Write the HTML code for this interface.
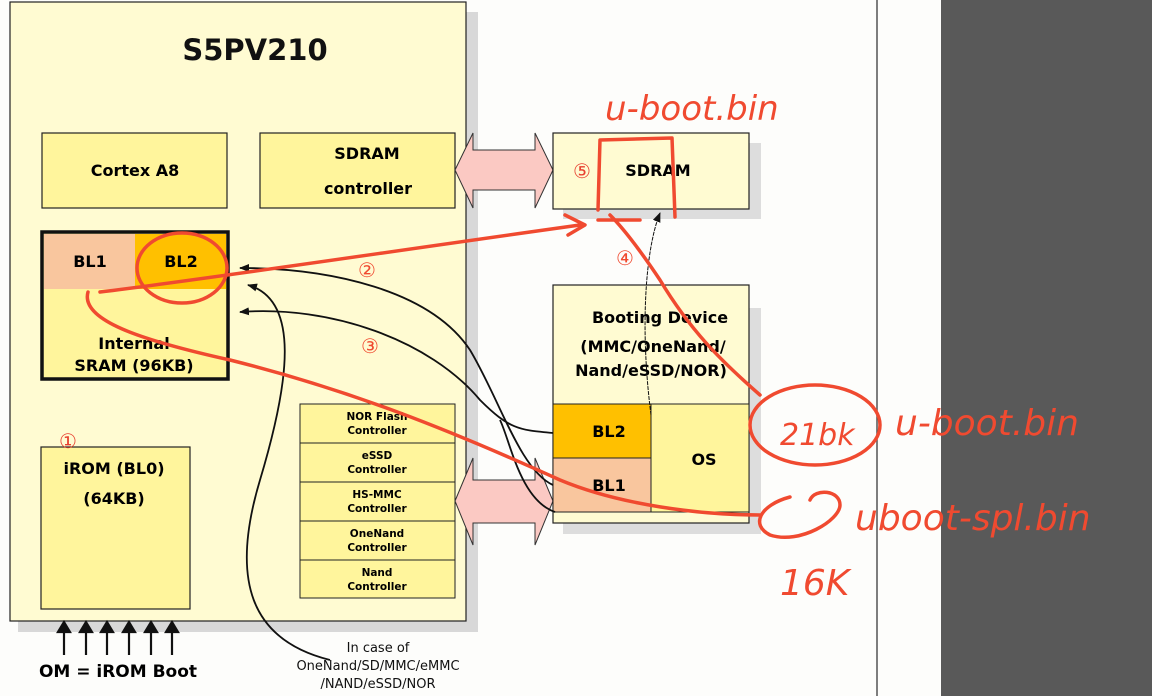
<!DOCTYPE html>
<html><head><meta charset="utf-8"><style>
html,body{margin:0;padding:0;background:#fff;}
svg{display:block;}
text{font-family:"DejaVu Sans","Liberation Sans",sans-serif;}
</style></head><body>
<svg width="1152" height="696" viewBox="0 0 1152 696" xmlns="http://www.w3.org/2000/svg">
<rect x="0" y="0" width="1152" height="696" fill="#fdfdfb"/>
<rect x="941" y="0" width="211" height="696" fill="#595959"/>
<line x1="877" y1="0" x2="877" y2="696" stroke="#555" stroke-width="1.5"/>

<rect x="18" y="12" width="460" height="620" fill="#d8d8d8"/>
<rect x="10" y="2" width="456" height="619" fill="#fffbd2" stroke="#222" stroke-width="1.2"/>
<text x="255" y="60" font-size="29" font-weight="bold" text-anchor="middle" fill="#111">S5PV210</text>

<rect x="42" y="133" width="185" height="75" fill="#fff59c" stroke="#222" stroke-width="1.2"/>
<text x="135" y="176" font-size="16" font-weight="bold" text-anchor="middle">Cortex A8</text>
<rect x="260" y="133" width="195" height="75" fill="#fff59c" stroke="#222" stroke-width="1.2"/>
<text x="367" y="159" font-size="16" font-weight="bold" text-anchor="middle">SDRAM</text>
<text x="368" y="194" font-size="16" font-weight="bold" text-anchor="middle">controller</text>

<rect x="42" y="232" width="186" height="147" fill="#fff59c" stroke="#111" stroke-width="3.5"/>
<rect x="44" y="234" width="91" height="55" fill="#f9c69e"/>
<rect x="135" y="234" width="91" height="55" fill="#ffc000"/>
<text x="90" y="267" font-size="16" font-weight="bold" text-anchor="middle">BL1</text>
<text x="181" y="267" font-size="16" font-weight="bold" text-anchor="middle">BL2</text>
<text x="134" y="349" font-size="16" font-weight="bold" text-anchor="middle">Internal</text>
<text x="134" y="371" font-size="16" font-weight="bold" text-anchor="middle">SRAM (96KB)</text>

<rect x="41" y="447" width="149" height="162" fill="#fff59c" stroke="#222" stroke-width="1.2"/>
<text x="114" y="474" font-size="16" font-weight="bold" text-anchor="middle">iROM (BL0)</text>
<text x="114" y="504" font-size="16" font-weight="bold" text-anchor="middle">(64KB)</text>
<text x="68" y="448" font-size="20" fill="#e84030" text-anchor="middle">①</text>

<g font-size="10.5" font-weight="bold" text-anchor="middle">
<rect x="300" y="404" width="155" height="39" fill="#fff59c" stroke="#222"/>
<text x="377" y="420">NOR Flash</text><text x="377" y="434">Controller</text>
<rect x="300" y="443" width="155" height="39" fill="#fff59c" stroke="#222"/>
<text x="377" y="459">eSSD</text><text x="377" y="473">Controller</text>
<rect x="300" y="482" width="155" height="39" fill="#fff59c" stroke="#222"/>
<text x="377" y="498">HS-MMC</text><text x="377" y="512">Controller</text>
<rect x="300" y="521" width="155" height="39" fill="#fff59c" stroke="#222"/>
<text x="377" y="537">OneNand</text><text x="377" y="551">Controller</text>
<rect x="300" y="560" width="155" height="38" fill="#fff59c" stroke="#222"/>
<text x="377" y="576">Nand</text><text x="377" y="590">Controller</text>
</g>

<polygon points="455,170 473,133 473,150 535,150 535,133 553,170 535,208 535,190 473,190 473,208" fill="#fbc9c3" stroke="#333" stroke-width="1"/>
<polygon points="455,501 473,458 473,480 535,480 535,458 553,501 535,545 535,523 473,523 473,545" fill="#fbc9c3" stroke="#333" stroke-width="1"/>

<rect x="563" y="143" width="198" height="76" fill="#ddd"/>
<rect x="553" y="133" width="196" height="76" fill="#fffbd2" stroke="#222" stroke-width="1.2"/>
<text x="658" y="176" font-size="16" font-weight="bold" text-anchor="middle">SDRAM</text>
<text x="582" y="178" font-size="20" fill="#e84030" text-anchor="middle">⑤</text>

<rect x="563" y="308" width="198" height="226" fill="#ddd"/>
<rect x="553" y="285" width="196" height="238" fill="#fffbd2" stroke="#222" stroke-width="1.2"/>
<text x="660" y="323" font-size="16" font-weight="bold" text-anchor="middle">Booting Device</text>
<text x="653" y="352" font-size="16" font-weight="bold" text-anchor="middle">(MMC/OneNand/</text>
<text x="651" y="376" font-size="16" font-weight="bold" text-anchor="middle">Nand/eSSD/NOR)</text>
<rect x="553" y="404" width="98" height="54" fill="#ffc000" stroke="#222"/>
<rect x="553" y="458" width="98" height="54" fill="#f9c69e" stroke="#222"/>
<rect x="651" y="404" width="98" height="108" fill="#fff59c" stroke="#222"/>
<text x="609" y="437" font-size="16" font-weight="bold" text-anchor="middle">BL2</text>
<text x="609" y="491" font-size="16" font-weight="bold" text-anchor="middle">BL1</text>
<text x="704" y="465" font-size="16" font-weight="bold" text-anchor="middle">OS</text>

<defs>
<marker id="ah" markerWidth="10" markerHeight="8" refX="9" refY="4" orient="auto" markerUnits="userSpaceOnUse"><polygon points="0,0 10,4 0,8" fill="#111"/></marker>
</defs>
<g fill="none" stroke="#111" stroke-width="1.8">
<path d="M553,485 C520,470 500,400 470,350 C430,290 330,268 240,268" marker-end="url(#ah)"/>
<path d="M553,433 C520,430 510,430 480,400 C430,340 330,305 240,312" marker-end="url(#ah)"/>
<path d="M330,660 C250,640 230,580 260,480 C290,380 300,300 248,285" marker-end="url(#ah)"/>
<path d="M555,512 C520,500 510,440 500,420" />
<path d="M651,415 C640,330 645,250 660,213" stroke-width="1" stroke-dasharray="4,1" marker-end="url(#ah)"/>
</g>

<g stroke="#111" stroke-width="2.2" fill="#111">
<line x1="64" y1="655" x2="64" y2="630"/><polygon points="58,632 64,622 70,632"/>
<line x1="86" y1="655" x2="86" y2="630"/><polygon points="80,632 86,622 92,632"/>
<line x1="107" y1="655" x2="107" y2="630"/><polygon points="101,632 107,622 113,632"/>
<line x1="129" y1="655" x2="129" y2="630"/><polygon points="123,632 129,622 135,632"/>
<line x1="151" y1="655" x2="151" y2="630"/><polygon points="145,632 151,622 157,632"/>
<line x1="172" y1="655" x2="172" y2="630"/><polygon points="166,632 172,622 178,632"/>
</g>
<text x="118" y="677" font-size="17" font-weight="bold" text-anchor="middle">OM = iROM Boot</text>
<g font-size="13" text-anchor="middle" fill="#111">
<text x="378" y="652">In case of</text>
<text x="378" y="670">OneNand/SD/MMC/eMMC</text>
<text x="378" y="688">/NAND/eSSD/NOR</text>
</g>

<g fill="none" stroke="#f04a30" stroke-width="3.5" stroke-linecap="round" stroke-linejoin="round">
<path d="M100,292 C200,280 400,250 580,225"/>
<path d="M565,215 L585,225 L568,235"/>
<path d="M88,292 C80,320 140,340 230,360 C350,390 450,430 560,480 C620,505 700,515 760,515"/>
<ellipse cx="182" cy="268" rx="45" ry="35"/>
<path d="M598,210 L600,140 L672,138 L675,217"/>
<path d="M598,220 L640,220"/>
<path d="M760,395 C720,360 690,330 660,280 C640,250 625,230 610,215"/>
<ellipse cx="815" cy="425" rx="65" ry="40"/>
<path d="M790,497 C760,505 750,525 770,535 C800,545 840,520 840,505 C840,490 815,488 810,500"/>
</g>
<g fill="#f04a30" font-family="'DejaVu Sans',sans-serif">
<text x="367" y="277" font-size="20" text-anchor="middle">②</text>
<text x="370" y="353" font-size="20" text-anchor="middle">③</text>
<text x="625" y="265" font-size="20" text-anchor="middle">④</text>
<text x="605" y="120" font-size="34" font-style="italic">u-boot.bin</text>
<text x="780" y="445" font-size="30" font-style="italic">21bk</text>
<text x="895" y="435" font-size="36" font-style="italic">u-boot.bin</text>
<text x="855" y="530" font-size="36" font-style="italic">uboot-spl.bin</text>
<text x="780" y="595" font-size="36" font-style="italic">16K</text>
</g>
</svg>
</body></html>
